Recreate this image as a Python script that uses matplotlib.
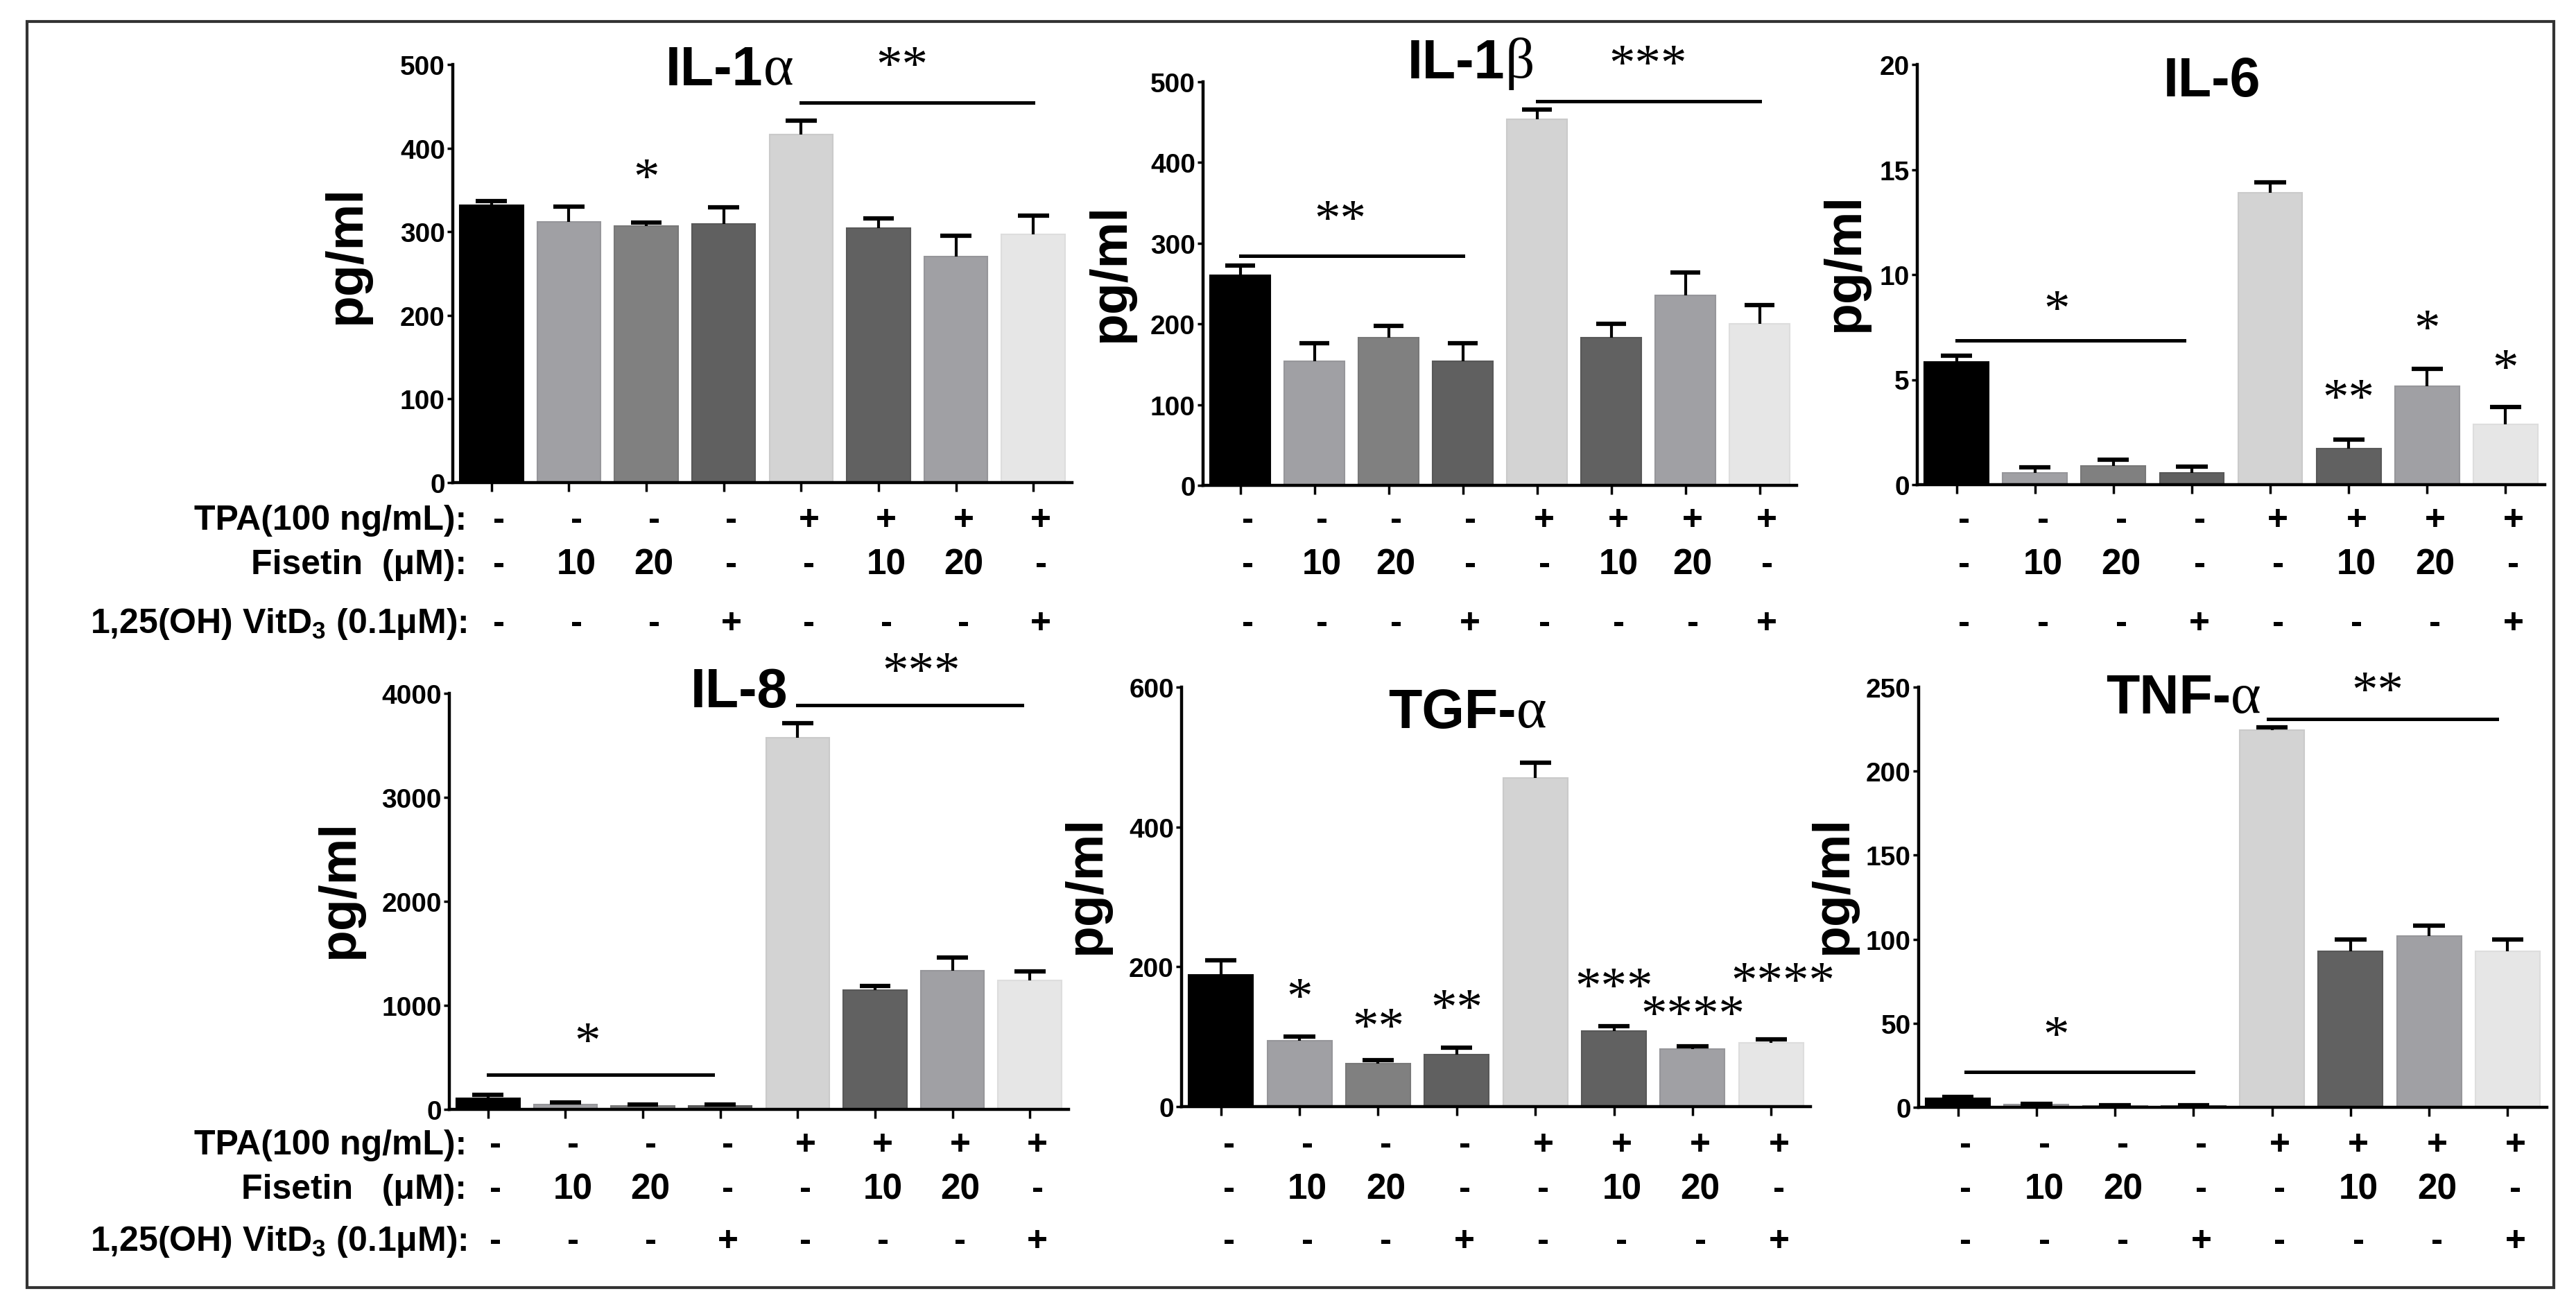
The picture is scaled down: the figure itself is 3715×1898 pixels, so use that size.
import numpy as np
import matplotlib
matplotlib.use('Agg')
import matplotlib.pyplot as plt
import matplotlib.transforms as mtransforms
from matplotlib.patches import Rectangle

plt.rcParams['font.family'] = ['Liberation Sans', 'DejaVu Sans']
plt.rcParams['font.weight'] = 'bold'
plt.rcParams['mathtext.fontset'] = 'custom'
plt.rcParams['mathtext.rm'] = 'Liberation Sans:bold'
plt.rcParams['mathtext.it'] = 'Liberation Sans:bold'
plt.rcParams['mathtext.bf'] = 'Liberation Sans:bold'

W, H = 3715, 1899

# ---- data ----
tpa     = ['-', '-', '-', '-', '+', '+', '+', '+']
fisetin = ['-', '10', '20', '-', '-', '10', '20', '-']
vitd    = ['-', '-', '-', '+', '-', '-', '-', '+']

bar_colors  = ['#000000', '#a0a0a4', '#808080', '#606060',
               '#d3d3d3', '#616161', '#a0a0a4', '#e6e6e6']
edge_colors = ['#000000', '#96969a', '#787878', '#585858',
               '#cacaca', '#585858', '#96969a', '#dddddd']

il1a_mean = [332, 312, 307, 309, 416, 304, 270, 297]
il1a_err  = [5, 18, 4, 20, 17, 12, 25, 22]

il1b_mean = [260, 154, 183, 154, 454, 183, 235, 200]
il1b_err  = [12, 22, 15, 22, 12, 17, 29, 23]

il6_mean = [5.85, 0.55, 0.88, 0.55, 13.9, 1.72, 4.68, 2.88]
il6_err  = [0.30, 0.28, 0.32, 0.30, 0.50, 0.44, 0.82, 0.82]

il8_mean = [110, 45, 35, 35, 3576, 1150, 1333, 1240]
il8_err  = [30, 20, 15, 15, 140, 40, 130, 90]

tgfa_mean = [188, 94, 61, 74, 470, 108, 82, 91]
tgfa_err  = [21, 6, 5, 10, 22, 7, 4, 5]

tnfa_mean = [5.5, 1.5, 1.0, 0.8, 224.5, 93, 102, 93]
tnfa_err  = [0.8, 0.5, 0.3, 0.3, 1.5, 7, 6, 7]

# significance: lines (x0, x1, y_line, label, x_label, y_label), single stars (x, y, label)
il1a_lines = [(4, 7, 454, '**', 5.3, 496)]
il1a_stars = [(2, 361, '*')]
il1b_lines = [(0, 3, 284, '**', 1.35, 326), (4, 7, 476, '***', 5.5, 519)]
il1b_stars = []
il6_lines = [(0, 2.9, 6.86, '*', 1.28, 8.2)]
il6_stars = [(5, 4.0, '**'), (6, 7.3, '*'), (7, 5.4, '*')]
il8_lines = [(0, 2.9, 331, '*', 1.28, 626), (4, 6.9, 3887, '***', 5.6, 4182)]
il8_stars = []
tgfa_lines = []
tgfa_stars = [(1, 152, '*'), (2, 110, '**'), (3, 137, '**'),
              (5, 167, '***'), (6, 128, '****'), (7.15, 175, '****')]
tnfa_lines = [(0.1, 3.0, 21, '*', 1.25, 41), (3.95, 6.86, 231, '**', 5.34, 246)]
tnfa_stars = []

panels = [
    # mean, err, ymax, ystep, box(l, r, t, b), lines, stars, ylabel(x, y)
    (il1a_mean, il1a_err, 500, 100, (653, 1546, 94, 697), il1a_lines, il1a_stars, (500, 368)),
    (il1b_mean, il1b_err, 500, 100, (1735, 2591, 119, 701), il1b_lines, il1b_stars, (1602, 394)),
    (il6_mean, il6_err, 20, 5, (2765, 3670, 94, 700), il6_lines, il6_stars, (2661, 379)),
    (il8_mean, il8_err, 4000, 1000, (648, 1541, 1001, 1601), il8_lines, il8_stars, (490, 1283)),
    (tgfa_mean, tgfa_err, 600, 200, (1704, 2611, 992, 1597), tgfa_lines, tgfa_stars, (1567, 1277)),
    (tnfa_mean, tnfa_err, 250, 50, (2767, 3673, 992, 1598), tnfa_lines, tnfa_stars, (2644, 1277)),
]

# titles: (text, greek, x_left or center, baseline)
titles = [('IL-1', 'α', 960, 123), ('IL-1', 'β', 2030, 113), ('IL-6', '', 3190, 139),
          ('IL-8', '', 1066, 1020), ('TGF-', 'α', 2002, 1050), ('TNF-', 'α', 3037, 1029)]

table_rows_top = [751, 815, 900]
table_rows_bot = [1652, 1716, 1791]
row_labels_top = ['TPA(100 ng/mL):', 'Fisetin  (μM):', '1,25(OH) VitD$_3$ (0.1μM):']
row_labels_bot = ['TPA(100 ng/mL):', 'Fisetin   (μM):', '1,25(OH) VitD$_3$ (0.1μM):']

fig = plt.figure(figsize=(W / 100, H / 100), dpi=100)

x = np.arange(8)
for i, (mean, err, ymax, ystep, box, lines, stars, ylab) in enumerate(panels):
    l, r, t, b = box
    ax = fig.add_axes([l / W, 1 - b / H, (r - l) / W, (b - t) / H])
    ax.bar(x, mean, width=0.82, color=bar_colors, edgecolor=edge_colors, linewidth=1.5, zorder=2)
    # upper-only error bars (T shape)
    tops = np.array(mean) + np.array(err)
    ax.vlines(x, mean, tops, color='black', lw=3, zorder=3)
    ax.hlines(tops, x - 0.2, x + 0.2, color='black', lw=4.5, zorder=3)
    ax.set_xlim(-0.5, 7.5)
    ax.set_ylim(0, ymax)
    ax.set_yticks(np.arange(0, ymax + ystep / 2, ystep))
    ax.set_xticks(x)
    ax.set_xticklabels([])
    for s in ['top', 'right']:
        ax.spines[s].set_visible(False)
    for s in ['left', 'bottom']:
        ax.spines[s].set_linewidth(3.2)
    ax.tick_params(axis='y', length=6, width=2.5, labelsize=28, pad=2)
    ax.tick_params(axis='x', length=9, width=2.5)

    fig.text(ylab[0] / W, 1 - ylab[1] / H, 'pg/ml', rotation=90, ha='center', va='center',
             fontsize=54, fontweight='bold')

    for x0, x1, yl, lab, xl, ylb in lines:
        ax.plot([x0, x1], [yl, yl], color='black', lw=3.6, clip_on=False, zorder=4)
        ax.text(xl, ylb, lab, ha='center', va='center', fontsize=54, fontweight='normal',
                family='Liberation Serif', clip_on=False)
    for xs, ys, lab in stars:
        ax.text(xs, ys, lab, ha='center', va='center', fontsize=54, fontweight='normal',
                family='Liberation Serif', clip_on=False)

    # treatment table
    rows = table_rows_top if i < 3 else table_rows_bot
    trans = mtransforms.blended_transform_factory(ax.transData, fig.transFigure)
    for vals, yr in zip([tpa, fisetin, vitd], rows):
        for xi, v in zip(x, vals):
            ax.text(xi + 0.1, 1 - yr / H, v, transform=trans, ha='center', va='center',
                    fontsize=37, fontweight='bold')

for labels, rows in [(row_labels_top, table_rows_top), (row_labels_bot, table_rows_bot)]:
    for lab, yr in zip(labels, rows):
        fig.text(673 / W, 1 - yr / H, lab, ha='right', va='center', fontsize=36, fontweight='bold')

for txt, greek, xt, yb in titles:
    if greek:
        t1 = fig.text(xt / W, 1 - yb / H, txt, ha='left', va='baseline',
                      fontsize=57, fontweight='bold')
        plt.gca().annotate(greek, xy=(1, 0), xycoords=t1, ha='left', va='bottom',
                           fontsize=60, fontweight='normal', family='Liberation Serif')
    else:
        fig.text(xt / W, 1 - yb / H, txt, ha='center', va='baseline',
                 fontsize=57, fontweight='bold')

fig.add_artist(Rectangle((39 / W, 1 - 1858 / H), (3683 - 39) / W, (1858 - 32) / H,
                         transform=fig.transFigure, fill=False, lw=3, ec='#333333'))

fig.savefig('out.png', dpi=100, facecolor='white')
